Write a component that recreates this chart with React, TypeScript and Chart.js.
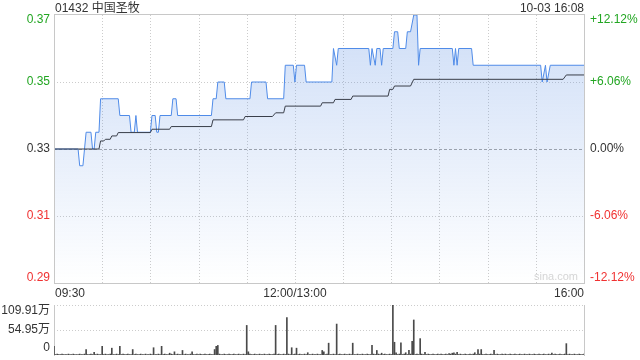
import React, { useEffect, useRef } from 'react';
import { Chart, registerables } from 'chart.js';

Chart.register(...registerables);

const title = '01432 中国圣牧';
const stamp = '10-03 16:08';
const watermark = 'sina.com';
const prevClose = 0.33;
const sessionMinutes = 330;
const gridMinutes = [30, 60, 90, 120, 150, 180, 210, 240, 270, 300];
const priceTicks = [0.29, 0.31, 0.33, 0.35, 0.37];
const priceTickLabels = ['0.29', '0.31', '0.33', '0.35', '0.37'];
const pctTickLabels = ['-12.12%', '-6.06%', '0.00%', '+6.06%', '+12.12%'];
const timeLabels = ['09:30', '12:00/13:00', '16:00'];
const timeLabelMinutes = [0, 150, 330];

// price line, read at its turning points (minute index from 09:30, lunch break removed)
const priceMinutes = [
  0, 15, 16, 18, 19, 20, 23, 24, 25, 26, 28, 29, 40, 41, 47, 48, 50, 51, 52, 60,
  61, 63, 64, 65, 66, 73, 74, 76, 77, 98, 99, 101, 102, 106, 107, 122, 123, 132, 133, 143,
  144, 149, 150, 151, 156, 157, 173, 174, 176, 177, 196, 197, 198, 200, 201, 203, 204, 205, 211, 212,
  214, 215, 219, 220, 222, 224, 226, 227, 228, 248, 249, 250, 251, 252, 260, 261, 303, 304, 306, 307,
  309, 330,
];
const priceValues = [
  0.33, 0.33, 0.325, 0.325, 0.33, 0.335, 0.335, 0.33, 0.33, 0.335, 0.335, 0.345, 0.345, 0.34, 0.34, 0.335, 0.335, 0.34, 0.335, 0.335,
  0.34, 0.34, 0.335, 0.335, 0.34, 0.34, 0.345, 0.345, 0.34, 0.34, 0.345, 0.345, 0.35, 0.35, 0.345, 0.345, 0.35, 0.35, 0.345, 0.345,
  0.355, 0.355, 0.35, 0.355, 0.355, 0.35, 0.35, 0.36, 0.355, 0.36, 0.36, 0.355, 0.36, 0.355, 0.36, 0.36, 0.355, 0.36, 0.36, 0.365,
  0.365, 0.36, 0.36, 0.365, 0.365, 0.37, 0.37, 0.355, 0.36, 0.36, 0.355, 0.36, 0.355, 0.36, 0.36, 0.355, 0.355, 0.35, 0.355, 0.35,
  0.355, 0.355,
];

// average price line, at its steps
const avgMinutes = [
  0, 28, 29, 31, 32, 35, 36, 39, 40, 60, 61, 72, 73, 98, 99, 118, 119, 136, 138, 143,
  144, 166, 167, 174, 175, 185, 186, 208, 209, 211, 212, 222, 224, 317, 319, 330,
];
const avgValues = [
  0.33, 0.33, 0.3324, 0.3324, 0.3329, 0.3329, 0.3339, 0.3339, 0.3349, 0.3349, 0.3359, 0.3359, 0.3367, 0.3367, 0.3387, 0.3387, 0.3397, 0.3397, 0.3408, 0.3408,
  0.3428, 0.3428, 0.3438, 0.3438, 0.3448, 0.3448, 0.3458, 0.3458, 0.3478, 0.3478, 0.3488, 0.3488, 0.3508, 0.3508, 0.3521, 0.3521,
];

const volumeTicks = [0, 54.95, 109.91];
const volumeTickLabels = ['0', '54.95万', '109.91万'];
// volume per minute, 万 shares
const volumes = [
  19, 1, 2, 1, 1, 2, 1, 1, 1, 2,
  1, 1, 2, 1, 1, 1, 2, 1, 1, 2,
  12, 1, 1, 2, 1, 6, 1, 2, 1, 1,
  19, 1, 2, 1, 1, 2, 15, 1, 1, 2,
  1, 19, 1, 2, 1, 1, 2, 1, 1, 12,
  1, 2, 1, 1, 2, 1, 1, 2, 1, 1,
  2, 1, 16, 1, 1, 2, 1, 19, 1, 2,
  1, 1, 4, 2, 1, 7, 1, 2, 1, 1,
  10, 1, 2, 1, 1, 2, 7, 1, 1, 2,
  1, 2, 1, 1, 2, 1, 1, 2, 1, 1,
  12, 19, 21, 2, 1, 1, 2, 1, 1, 2,
  1, 1, 2, 1, 1, 2, 1, 1, 2, 1,
  65, 7, 2, 1, 1, 2, 1, 1, 2, 1,
  1, 2, 1, 1, 2, 1, 1, 2, 65, 1,
  2, 1, 1, 2, 1, 82, 2, 1, 16, 1,
  2, 15, 1, 2, 1, 1, 2, 1, 5, 1,
  1, 2, 1, 1, 2, 1, 1, 10, 7, 1,
  2, 26, 1, 1, 2, 1, 68, 1, 2, 1,
  1, 2, 1, 1, 2, 1, 26, 1, 1, 2,
  1, 1, 2, 1, 1, 2, 1, 1, 21, 2,
  1, 10, 2, 1, 4, 1, 2, 1, 1, 2,
  1, 109.9, 28, 5, 1, 2, 27, 1, 2, 5,
  1, 10, 2, 30, 77, 1, 2, 1, 36, 2,
  1, 6, 1, 2, 1, 1, 2, 1, 1, 2,
  1, 2, 1, 1, 2, 1, 3, 2, 4, 5,
  2, 6, 1, 2, 1, 1, 2, 1, 1, 2,
  1, 2, 5, 1, 12, 2, 12, 1, 1, 2,
  1, 1, 2, 1, 10, 1, 2, 1, 1, 2,
  1, 2, 1, 1, 2, 1, 1, 2, 1, 1,
  2, 1, 1, 2, 1, 1, 2, 1, 1, 2,
  1, 1, 2, 1, 1, 2, 1, 1, 2, 1,
  4, 1, 2, 1, 1, 2, 1, 1, 2, 25,
  1, 2, 1, 1, 2, 1, 1, 2, 1, 1,
  2,
];

const FONT = '12px "Liberation Sans", Arial, "Noto Sans CJK SC", sans-serif';
const GREEN = '#22a622';
const RED = '#f03232';
const DARK = '#333333';
const GRID = '#cccccc';
const BORDER = '#c8c8c8';

function tickColor(v: number) {
  if (Math.abs(v - prevClose) < 1e-9) return DARK;
  return v > prevClose ? GREEN : RED;
}

const pricePlugin = {
  id: 'priceDecor',
  beforeDatasetsDraw(chart: any) {
    const { ctx, chartArea: a, scales } = chart;
    const x = scales.x;
    const y = scales.y;
    ctx.save();
    ctx.lineWidth = 1;
    ctx.strokeStyle = GRID;
    ctx.setLineDash([1, 2]);
    gridMinutes.forEach((m) => {
      const px = Math.round(x.getPixelForValue(m)) + 0.5;
      ctx.beginPath();
      ctx.moveTo(px, a.top);
      ctx.lineTo(px, a.bottom);
      ctx.stroke();
    });
    priceTicks.slice(1, -1).forEach((v) => {
      const py = Math.round(y.getPixelForValue(v)) + 0.5;
      if (Math.abs(v - prevClose) < 1e-9) {
        ctx.strokeStyle = '#a6a6a6';
        ctx.setLineDash([3, 2]);
      } else {
        ctx.strokeStyle = GRID;
        ctx.setLineDash([1, 2]);
      }
      ctx.beginPath();
      ctx.moveTo(a.left, py);
      ctx.lineTo(a.right, py);
      ctx.stroke();
    });
    ctx.setLineDash([]);
    ctx.font = '11px "Liberation Sans", Arial, sans-serif';
    ctx.fillStyle = '#d6d6d6';
    ctx.textAlign = 'right';
    ctx.textBaseline = 'alphabetic';
    ctx.fillText(watermark, a.right - 6, a.bottom - 3);
    ctx.restore();
  },
  afterDraw(chart: any) {
    const { ctx, chartArea: a, scales } = chart;
    const x = scales.x;
    const y = scales.y;
    ctx.save();
    ctx.lineWidth = 1;
    ctx.strokeStyle = BORDER;
    ctx.strokeRect(
      Math.round(a.left) + 0.5,
      Math.round(a.top) - 0.5,
      Math.round(a.right) - Math.round(a.left),
      Math.round(a.bottom) - Math.round(a.top) + 1
    );
    ctx.font = FONT;
    ctx.textBaseline = 'middle';
    priceTicks.forEach((v, i) => {
      let py = y.getPixelForValue(v);
      py = Math.min(Math.max(py, a.top + 5), a.bottom - 5);
      ctx.fillStyle = tickColor(v);
      ctx.textAlign = 'right';
      ctx.fillText(priceTickLabels[i], a.left - 4, py);
      ctx.textAlign = 'left';
      ctx.fillText(pctTickLabels[i], a.right + 6, py);
    });
    ctx.fillStyle = DARK;
    ctx.textBaseline = 'alphabetic';
    timeLabels.forEach((t, i) => {
      const px = x.getPixelForValue(timeLabelMinutes[i]);
      ctx.textAlign = i === 0 ? 'left' : i === timeLabels.length - 1 ? 'right' : 'center';
      ctx.fillText(t, px + (i === 0 ? 1 : 0), a.bottom + 14);
    });
    ctx.textAlign = 'left';
    ctx.fillText(title, a.left + 1, 12);
    ctx.textAlign = 'right';
    ctx.fillText(stamp, a.right, 12);
    ctx.restore();
  },
};

const volumePlugin = {
  id: 'volumeDecor',
  beforeDatasetsDraw(chart: any) {
    const { ctx, chartArea: a, scales } = chart;
    const y = scales.y;
    ctx.save();
    ctx.lineWidth = 1;
    ctx.strokeStyle = GRID;
    ctx.setLineDash([1, 2]);
    volumeTicks.slice(1).forEach((v) => {
      const py = Math.round(y.getPixelForValue(v)) + 0.5;
      ctx.beginPath();
      ctx.moveTo(a.left, py);
      ctx.lineTo(a.right, py);
      ctx.stroke();
    });
    ctx.setLineDash([]);
    ctx.strokeStyle = BORDER;
    [a.left, a.right].forEach((xx: number) => {
      const px = Math.round(xx) + 0.5;
      ctx.beginPath();
      ctx.moveTo(px, a.top);
      ctx.lineTo(px, a.bottom + 1);
      ctx.stroke();
    });
    ctx.restore();
  },
  afterDraw(chart: any) {
    const { ctx, chartArea: a, scales } = chart;
    const y = scales.y;
    ctx.save();
    ctx.font = FONT;
    ctx.fillStyle = DARK;
    ctx.textAlign = 'right';
    ctx.textBaseline = 'middle';
    volumeTicks.forEach((v, i) => {
      let py = y.getPixelForValue(v);
      py = Math.min(Math.max(py, a.top + 6), a.bottom - 7);
      ctx.fillText(volumeTickLabels[i], a.left - 4, py);
    });
    ctx.restore();
  },
};

export default function App() {
  const priceRef = useRef<HTMLCanvasElement>(null);
  const volRef = useRef<HTMLCanvasElement>(null);

  useEffect(() => {
    const priceData = priceMinutes.map((m, i) => ({ x: m, y: priceValues[i] }));
    const avgData = avgMinutes.map((m, i) => ({ x: m, y: avgValues[i] }));
    const volData = volumes.map((v, i) => ({ x: i, y: v }));

    const pc = new Chart(priceRef.current as HTMLCanvasElement, {
      type: 'line',
      data: {
        datasets: [
          {
            data: avgData,
            borderColor: '#3a3f4a',
            borderWidth: 1,
            pointRadius: 0,
            tension: 0,
            fill: false,
          },
          {
            data: priceData,
            borderColor: '#4f8be8',
            borderWidth: 1,
            pointRadius: 0,
            tension: 0,
            fill: 'start',
            backgroundColor: (c: any) => {
              const { chart } = c;
              const area = chart.chartArea;
              if (!area) return 'rgba(80,135,225,0.15)';
              const g = chart.ctx.createLinearGradient(0, area.top, 0, area.bottom);
              g.addColorStop(0, 'rgba(80,135,225,0.28)');
              g.addColorStop(1, 'rgba(80,135,225,0.0)');
              return g;
            },
          },
        ],
      },
      options: {
        animation: false,
        responsive: false,
        devicePixelRatio: 1,
        layout: { padding: { left: 54, right: 56, top: 15, bottom: 17 } },
        plugins: { legend: { display: false }, tooltip: { enabled: false } },
        scales: {
          x: { type: 'linear', min: 0, max: sessionMinutes, display: false },
          y: { type: 'linear', min: priceTicks[0], max: priceTicks[priceTicks.length - 1], display: false },
        },
      },
      plugins: [pricePlugin],
    } as any);

    const vc = new Chart(volRef.current as HTMLCanvasElement, {
      type: 'bar',
      data: {
        datasets: [
          {
            data: volData,
            backgroundColor: '#4a4a4a',
            borderWidth: 0,
            barThickness: 1,
          },
        ],
      },
      options: {
        animation: false,
        responsive: false,
        devicePixelRatio: 1,
        layout: { padding: { left: 54, right: 56, top: 15, bottom: 5 } },
        plugins: { legend: { display: false }, tooltip: { enabled: false } },
        scales: {
          x: { type: 'linear', min: 0, max: sessionMinutes, display: false, offset: false },
          y: { type: 'linear', min: 0, max: volumeTicks[volumeTicks.length - 1], display: false },
        },
      },
      plugins: [volumePlugin],
    } as any);

    return () => {
      pc.destroy();
      vc.destroy();
    };
  }, []);

  return (
    <div style={{ position: 'fixed', left: 0, top: 0, width: 640, height: 360, background: '#fff' }}>
      <canvas ref={priceRef} width={640} height={300} style={{ position: 'absolute', left: 0, top: 0 }} />
      <canvas ref={volRef} width={640} height={70} style={{ position: 'absolute', left: 0, top: 290 }} />
    </div>
  );
}
